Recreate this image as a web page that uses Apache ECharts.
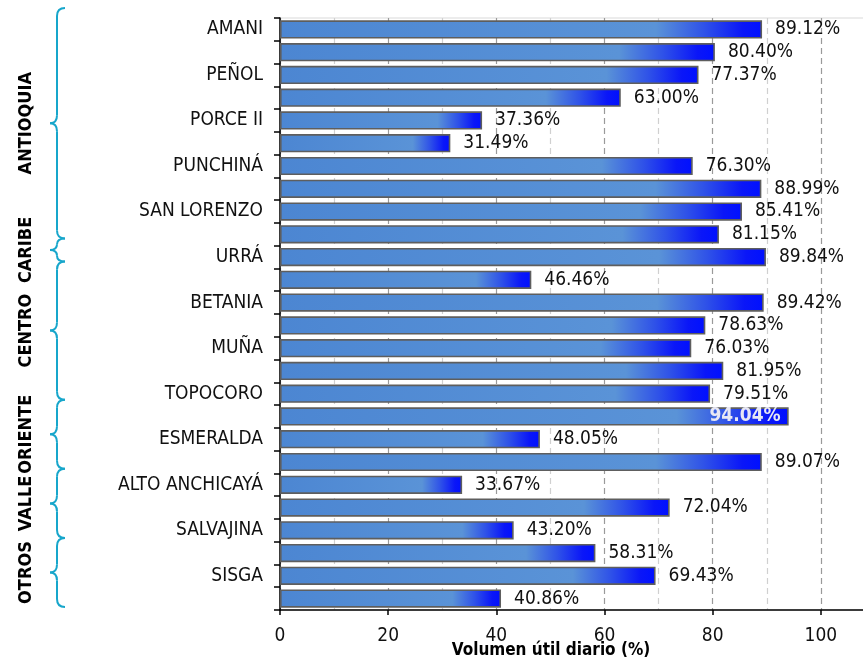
<!DOCTYPE html>
<html>
<head>
<meta charset="utf-8">
<script src="https://cdn.jsdelivr.net/npm/echarts@6/dist/echarts.min.js"></script>
<style>
html,body{margin:0;padding:0;background:#fff;}
#chart{width:863px;height:657px;}
</style>
</head>
<body>
<div id="chart"></div>
<script>
// ---- data ----
var categories = ['AMANI','MIRAFLORES','PEÑOL','PLAYAS','PORCE II','PORCE III','PUNCHINÁ','RIOGRANDE2','SAN LORENZO','TRONERAS','URRÁ','AGREGADO BOGOTÁ','BETANIA','EL QUIMBO','MUÑA','PRADO','TOPOCORO','CHUZA','ESMERALDA','GUAVIO','ALTO ANCHICAYÁ','CALIMA','SALVAJINA','NEUSA','SISGA','TOMINÉ'];
var values = [89.12,80.40,77.37,63.00,37.36,31.49,76.30,88.99,85.41,81.15,89.84,46.46,89.42,78.63,76.03,81.95,79.51,94.04,48.05,89.07,33.67,72.04,43.20,58.31,69.43,40.86];
var groupNames = ['ANTIOQUIA','CARIBE','CENTRO','ORIENTE','VALLE','OTROS'];
var groupStart = [0,10,11,17,20,23];
var groupEnd   = [9,10,16,19,22,25];
var xTicks = [0,20,40,60,80,100];
var axisTitle = 'Volumen útil diario (%)';

var FONT = "'Liberation Sans Narrow','Arial Narrow','DejaVu Sans Condensed',sans-serif";
var chart = echarts.init(document.getElementById('chart'), null, {renderer:'canvas'});

var barGradient = new echarts.graphic.LinearGradient(0,0,1,0,[
  {offset:0, color:'#4c86d2'},
  {offset:0.78, color:'#5a93d7'},
  {offset:0.88, color:'#2f52e8'},
  {offset:0.96, color:'#0a16f8'},
  {offset:1, color:'#0010ff'}
]);

var seriesData = values.map(function(v){
  var d = {value:v};
  if (v > 92) {
    d.label = {position:'insideRight', distance:8, color:'#e8e8f4', fontWeight:'bold'};
  }
  return d;
});

chart.setOption({
  animation:false,
  backgroundColor:'#fff',
  grid:{left:280, right:-12, top:18, bottom:47, show:true, borderColor:'#d9d9d9', borderWidth:1,
        containLabel:false, outerBoundsMode:'none'},
  xAxis:{
    type:'value', min:0, max:110, interval:20,
    axisLine:{show:true, lineStyle:{color:'#000', width:1.5}},
    axisTick:{show:true, length:5, lineStyle:{color:'#000', width:1.5}},
    axisLabel:{margin:17, color:'#111', fontFamily:FONT, fontSize:19,
      formatter:function(v){ return xTicks.indexOf(v) >= 0 ? String(v) : ''; }},
    splitLine:{show:true, lineStyle:{color:'#9a9a9a', type:[6,4], width:1.2}},
    minorTick:{show:false, splitNumber:2},
    minorSplitLine:{show:true, lineStyle:{color:'#d0d0d0', type:[6,4], width:1.2}}
  },
  yAxis:{
    type:'category', data:categories, inverse:true,
    axisLine:{show:true, lineStyle:{color:'#000', width:1.5}},
    axisTick:{show:true, interval:0, length:6, lineStyle:{color:'#000', width:1.5}},
    axisLabel:{interval:1, margin:17, color:'#111', fontFamily:FONT, fontSize:19},
    splitLine:{show:false}
  },
  series:[{
    type:'bar', data:seriesData, barCategoryGap:'20%',
    itemStyle:{color:barGradient, borderColor:'#5e5e5e', borderWidth:1.6},
    label:{show:true, position:'right', distance:13, color:'#111', fontFamily:FONT, fontSize:19,
      formatter:function(p){ return p.value.toFixed(2) + '%'; }}
  }]
});

// ---- decorations: braces and group labels ----
function catY(i){ return chart.convertToPixel({yAxisIndex:0}, categories[i]); }
var band = catY(1) - catY(0);
var plotTop = catY(0) - band/2;
function braceY(y){ return y - 10 + (y - plotTop) * 0.012; }

var BR = {stroke:'#17a6cb', lineWidth:2, fill:null};
function curve(x1,y1,cx,cy,x2,y2){
  return {type:'bezierCurve', shape:{x1:x1,y1:y1,cpx1:cx,cpy1:cy,x2:x2,y2:y2}, style:BR, silent:true};
}
function seg(x1,y1,x2,y2){
  return {type:'line', shape:{x1:x1,y1:y1,x2:x2,y2:y2}, style:BR, silent:true};
}

var graphics = [];
for (var g = 0; g < groupNames.length; g++) {
  var y0 = braceY(catY(groupStart[g]) - band/2);
  var y1 = braceY(catY(groupEnd[g]) + band/2);
  var mid = (y0 + y1) / 2;
  var r = Math.min(8, (y1 - y0) / 4);
  var xl = 57, xe = 65, xt = 50;
  graphics.push(curve(xe, y0, xl, y0, xl, y0 + r));
  graphics.push(seg(xl, y0 + r, xl, mid - r));
  graphics.push(curve(xl, mid - r, xl, mid, xt, mid));
  graphics.push(curve(xt, mid, xl, mid, xl, mid + r));
  graphics.push(seg(xl, mid + r, xl, y1 - r));
  graphics.push(curve(xl, y1 - r, xl, y1, xe, y1));
  graphics.push({type:'text', x:26, y:mid, rotation:Math.PI/2,
    style:{text:groupNames[g], fill:'#000', font:'bold 18px ' + FONT, align:'center', verticalAlign:'middle'}, silent:true});
}
graphics.push({type:'text', x:551, y:651,
  style:{text:axisTitle, fill:'#000', font:'bold 17px ' + FONT, align:'center', verticalAlign:'middle'}, silent:true});
chart.setOption({graphic:graphics});
</script>
</body>
</html>
